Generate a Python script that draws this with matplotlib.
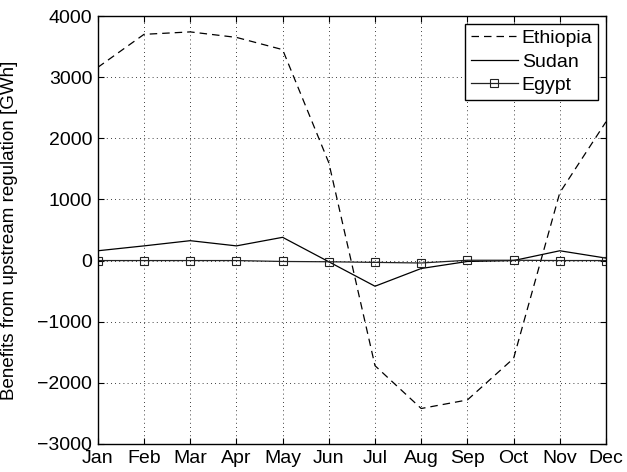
import matplotlib
matplotlib.use("Agg")
import matplotlib.pyplot as plt

plt.rcParams['font.family'] = ['Liberation Sans', 'DejaVu Sans']

months = ['Jan', 'Feb', 'Mar', 'Apr', 'May', 'Jun', 'Jul', 'Aug', 'Sep', 'Oct', 'Nov', 'Dec']
ethiopia = [3160, 3700, 3740, 3650, 3450, 1600, -1720, -2420, -2280, -1600, 1110, 2270]
sudan = [160, 240, 325, 240, 380, -20, -420, -130, -15, 0, 160, 40]
egypt = [0, 0, 0, 0, -15, -20, -30, -40, 5, 5, 0, 0]

fig = plt.figure(figsize=(6.27, 4.72), dpi=100)
ax = fig.add_axes([0.156, 0.0594, 0.8105, 0.9067])

x = range(len(months))
ax.plot(x, ethiopia, color='black', linestyle=(0, (6, 4)), linewidth=0.9, label='Ethiopia')
ax.plot(x, sudan, color='black', linestyle='-', linewidth=0.9, label='Sudan')
ax.plot(x, egypt, color='#222222', linestyle='-', linewidth=0.9, marker='s', markersize=6,
        markerfacecolor='none', markeredgewidth=0.8, label='Egypt')

ax.set_xlim(0, 11)
ax.set_ylim(-3000, 4000)
ax.set_xticks(list(x))
ax.set_xticklabels(months)
ax.set_yticks(range(-3000, 4001, 1000))
ax.tick_params(direction='in', top=True, right=True, labelsize=14, length=4, width=0.8)
ax.tick_params(axis='x', pad=4)
ax.tick_params(axis='y', pad=4)
ax.grid(True, color='black', linestyle=(0, (1, 4)), linewidth=0.6)
for s in ax.spines.values():
    s.set_linewidth(1.0)
ax.set_ylabel('Benefits from upstream regulation [GWh]', fontsize=13.5)
ax.yaxis.set_label_coords(-0.157, 0.5)

leg = ax.legend(loc='upper right', fontsize=14, fancybox=False, edgecolor='black',
                framealpha=1, handlelength=2.4, borderpad=0.3, labelspacing=0.3,
                handletextpad=0.2, borderaxespad=0.4)
leg.get_frame().set_linewidth(1.0)

fig.savefig('out.png', dpi=100)
